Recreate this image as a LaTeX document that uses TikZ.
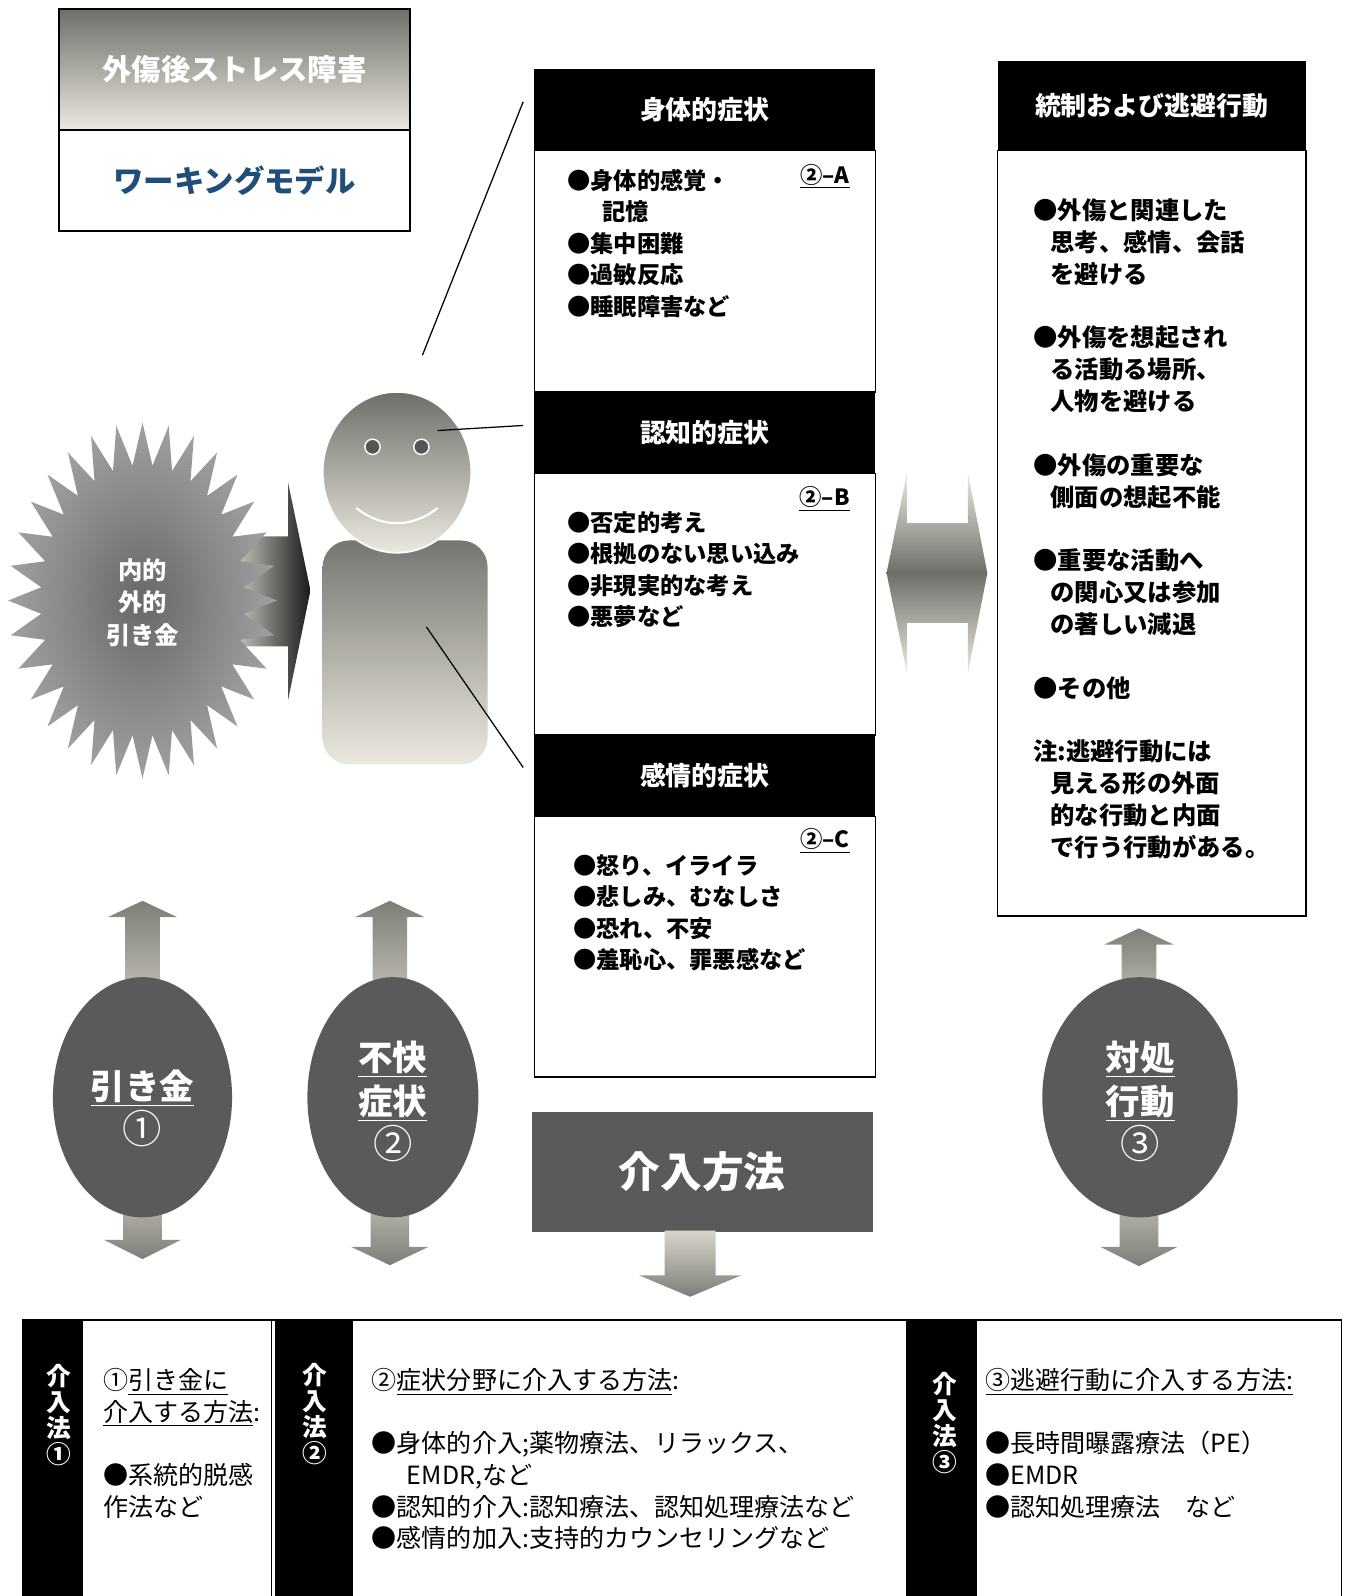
\documentclass[tikz,border=0pt]{standalone}
\usepackage{fontspec}
\setmainfont{Noto Sans CJK JP}
\usetikzlibrary{positioning, shapes.geometric}

\definecolor{drk}{HTML}{5A5A5A}
\definecolor{gdark}{HTML}{6F6E69}
\definecolor{glite}{HTML}{EBE9DF}
\definecolor{navy}{HTML}{1F4E79}
\definecolor{eyegray}{HTML}{555555}
\definecolor{starin}{HTML}{686868}
\definecolor{starout}{HTML}{A0A0A0}
\definecolor{adark}{HTML}{7E7D77}
\definecolor{alite}{HTML}{D8D6CB}

% one unit = one pixel of the page
\def\pxu{0.02cm}
\newcommand\setfs[2]{\fontsize{#1}{#2}\selectfont}
\newcommand\bignum[1]{{\fontsize{22pt}{24.4pt}\selectfont\mdseries #1}}

\tikzset{
  hdr/.style={fill=black, text=white, font=\setfs{14.5pt}{17pt}\bfseries,
    minimum width={335*\pxu}, minimum height={80*\pxu}, inner sep=0, outer sep=0},
  panel/.style={draw=black, line width=0.8pt, fill=white,
    minimum width={335*\pxu}, inner sep=0, outer sep=0},
  itm/.style={font=\setfs{13pt}{17.6pt}\bfseries, align=left, inner sep=0, anchor=north west},
  tag/.style={font=\setfs{12.5pt}{15pt}\bfseries, inner sep=0, anchor=base east},
  cell/.style={font=\setfs{14pt}{17.7pt}, align=left, inner sep=0, anchor=north west},
  vlab/.style={text=white, font=\setfs{13.8pt}{14.5pt}\bfseries, align=center, inner sep=0},
  oval/.style={ellipse, fill=drk, inner sep=0, minimum height={236*\pxu}},
  ovaltxt/.style={text=white, font=\setfs{19.3pt}{24.4pt}\bfseries, align=center, inner sep=0},
  uparr/.style={top color=adark, bottom color=alite},
  dnarr/.style={top color=alite, bottom color=adark},
  leader/.style={line width=0.7pt}
}

\begin{document}
\begin{tikzpicture}[x=0.02cm, y=-0.02cm]
\useasboundingbox (0,0) rectangle (1324,1568);

% title %
\node[anchor=north west, draw=black, line width=1pt, minimum width={345*\pxu},
  minimum height={119*\pxu}, top color=gdark, bottom color=glite, text=white,
  font=\setfs{16.4pt}{20pt}\bfseries, inner sep=0, outer sep=0] (ptsd) at (58,9) {外傷後ストレス障害};
\node[draw=black, line width=1pt, fill=white, minimum width={345*\pxu},
  minimum height={99*\pxu}, text=navy, font=\setfs{17pt}{20pt}\bfseries,
  inner sep=0, outer sep=0, below=0pt of ptsd] (model) {ワーキングモデル};

% trigger arrow and burst %
\shade[left color=alite, right color=black!90] (225,527) -- (283,527) -- (283,474)
  -- (305,580) -- (283,688) -- (283,635) -- (225,635) -- cycle;
\shade[shift={(140,590)}, inner color=starin, outer color=starout] (132,0)
  \foreach \a in {0,11.25,...,348.75}{ -- ({132*cos(\a)},{175*sin(\a)})
    -- ({100*cos(\a+5.625)},{133*sin(\a+5.625)}) } -- cycle;
\node[text=white, font=\setfs{13.6pt}{18.1pt}\bfseries, align=center, inner sep=0]
  (burst) at (140,592) {内的\\外的\\引き金};

% person %
\node[rectangle, rounded corners=0.52cm, minimum width={162*\pxu}, minimum height={220*\pxu},
  top color=gdark!95!white, bottom color=glite] (torso) at (398,641) {};
\node[ellipse, draw=white, line width=1pt, minimum width={146*\pxu}, minimum height={158*\pxu},
  top color=gdark, bottom color=glite] (head) at (390,464) {};
\node[circle, fill=eyegray, draw=white, line width=0.8pt, minimum size={15*\pxu}, inner sep=0] (eyel) at (366,439) {};
\node[circle, fill=eyegray, draw=white, line width=0.8pt, minimum size={15*\pxu}, inner sep=0] (eyer) at (414,439) {};
\draw[white, line width=1.2pt] (350,499) .. controls (375,519) and (405,519) .. (430,499);

% symptom column %
\node[hdr, anchor=north west] (somah) at (525,68) {身体的症状};
\node[panel, minimum height={237*\pxu}, below=0pt of somah] (somab) {};
\node[hdr, below=0pt of somab] (cogh) {認知的症状};
\node[panel, minimum height={257*\pxu}, below=0pt of cogh] (cogb) {};
\node[hdr, below=0pt of cogb] (emoh) {感情的症状};
\node[panel, minimum height={256*\pxu}, below=0pt of emoh] (emob) {};

\node[itm] (somalist) at (557,166) {●身体的感覚・\\\hspace*{1.5em}記憶\\●集中困難\\●過敏反応\\●睡眠障害など};
\node[tag] (somatag) at (835,180) {\underline{②–A}};
\node[itm] (coglist) at (557,502) {●否定的考え\\●根拠のない思い込み\\●非現実的な考え\\●悪夢など};
\node[tag] (cogtag) at (835,497) {\underline{②–B}};
\node[itm] (emolist) at (563,839) {●怒り、イライラ\\●悲しみ、むなしさ\\●恐れ、不安\\●羞恥心、罪悪感など};
\node[tag] (emotag) at (835,833) {\underline{②–C}};

% leader lines %
\coordinate (l1a) at (415,349);
\coordinate (l1b) at (514,100);
\coordinate (l2a) at (430,423);
\coordinate (l2b) at (514,418);
\coordinate (l3a) at (419,616);
\coordinate (l3b) at (514,754);
\draw[leader] (l1a) -- (l1b);
\draw[leader] (l2a) -- (l2b);
\draw[leader] (l3a) -- (l3b);

% two-way arrow %
\shade[top color=glite, bottom color=glite, middle color=gdark] (871,563) -- (891,465)
  -- (891,514) -- (951,514) -- (951,465) -- (970,563) -- (951,661) -- (951,612)
  -- (891,612) -- (891,661) -- cycle;

% avoidance box %
\node[hdr, anchor=north west, minimum width={303*\pxu}, minimum height={88*\pxu}] (avoidh) at (980,60) {統制および逃避行動};
\node[panel, minimum width={303*\pxu}, minimum height={752*\pxu}, below=0pt of avoidh] (avoidb) {};
\node[itm, font=\setfs{13.6pt}{17.8pt}\bfseries] (avoidlist) at (1015,195) {●外傷と関連した\\
  \hspace*{0.7em}思考、感情、会話\\\hspace*{0.7em}を避ける\\[17.8pt]
  ●外傷を想起され\\\hspace*{0.7em}る活動る場所、\\\hspace*{0.7em}人物を避ける\\[17.8pt]
  ●外傷の重要な\\\hspace*{0.7em}側面の想起不能\\[17.8pt]
  ●重要な活動へ\\\hspace*{0.7em}の関心又は参加\\\hspace*{0.7em}の著しい減退\\[17.8pt]
  ●その他\\[17.8pt]
  注:逃避行動には\\\hspace*{0.7em}見える形の外面\\\hspace*{0.7em}的な行動と内面\\\hspace*{0.7em}で行う行動がある。};

% up and down arrows behind the ovals %
\foreach \cx/\ut/\ub/\dt in {140/885/1218/1237, 383/885/1225/1243, 1119/912/1225/1244}{
  \shade[uparr] (\cx,\ut) -- ({\cx+34},{\ut+16}) -- ({\cx+17},{\ut+16}) -- ({\cx+17},1010)
    -- ({\cx-17},1010) -- ({\cx-17},{\ut+16}) -- ({\cx-34},{\ut+16}) -- cycle;
  \shade[dnarr] ({\cx-19},1150) -- ({\cx+19},1150) -- ({\cx+19},\ub) -- ({\cx+38},\ub)
    -- (\cx,\dt) -- ({\cx-38},\ub) -- ({\cx-19},\ub) -- cycle;
}

% ovals %
\node[oval, minimum width={176*\pxu}] (trig) at (140,1078) {};
\node[oval, minimum width={168*\pxu}] (symp) at (386,1078) {};
\node[oval, minimum width={192*\pxu}] (cope) at (1120,1078) {};
\node[ovaltxt] (trigtxt) at (140,1089) {\underline{引き金}\\\bignum{①}};
\node[ovaltxt] (symptxt) at (386,1082) {\underline{不快}\\\underline{症状}\\\bignum{②}};
\node[ovaltxt] (copetxt) at (1120,1082) {\underline{対処}\\\underline{行動}\\\bignum{③}};

% methods %
\node[anchor=north west, fill=drk, text=white, minimum width={335*\pxu}, minimum height={118*\pxu},
  font=\setfs{23.3pt}{28pt}\bfseries, inner sep=0] (meth) at (522,1092) {介入方法};
\shade[dnarr] (653,1209) -- (703,1209) -- (703,1253) -- (728,1253) -- (678,1274)
  -- (628,1253) -- (653,1253) -- cycle;

% table %
\draw[line width=0.8pt] (22,1297) rectangle (1318,1620);
\fill (22,1297) rectangle (82,1620);
\fill (270,1297) rectangle (347,1620);
\fill (890,1297) rectangle (960,1620);
\draw[line width=0.8pt] (267,1297) -- (267,1620);

\node[vlab] (m1) at (58,1390) {介\\入\\法\\①};
\node[vlab] (m2) at (309,1389) {介\\入\\法\\②};
\node[vlab] (m3) at (928,1398) {介\\入\\法\\③};

\node[cell] (m1txt) at (101,1344) {①\underline{引き金に}\\\underline{介入する方法}:\\[17.7pt]●系統的脱感\\作法など};
\node[cell] (m2txt) at (365,1344) {②\underline{症状分野に介入する方法}:\\[17.7pt]
  ●身体的介入;薬物療法、リラックス、\\\hspace*{1.4em}EMDR,など\\
  ●認知的介入:認知療法、認知処理療法など\\●感情的加入:支持的カウンセリングなど};
\node[cell] (m3txt) at (968,1344) {\underline{③逃避行動に介入する方法:}\\[17.7pt]
  ●長時間曝露療法（PE）\\●EMDR\\●認知処理療法　など};
\end{tikzpicture}
\end{document}
